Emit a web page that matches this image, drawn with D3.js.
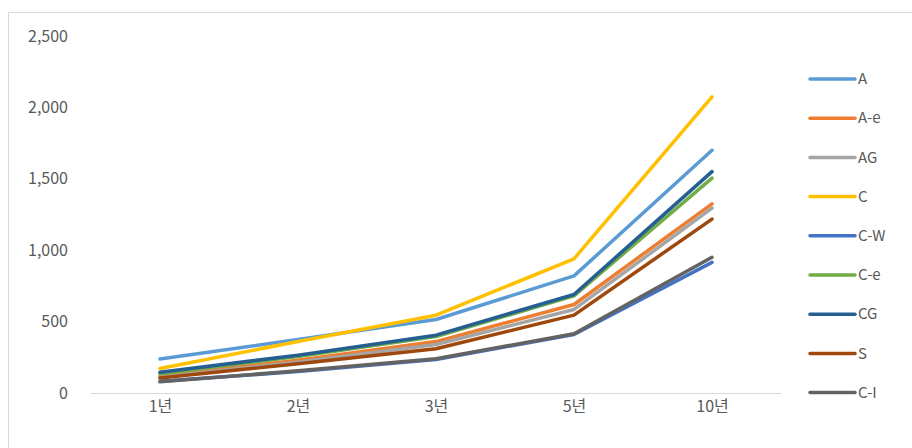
<!DOCTYPE html>
<html>
<head>
<meta charset="utf-8">
<script src="https://cdn.jsdelivr.net/npm/d3@7"></script>
<style>
  body { margin: 0; background: #fff; }
  text { font-family: "Noto Sans CJK KR", "Noto Sans", sans-serif; fill: #595959; }
</style>
</head>
<body>
<script>
"use strict";

// categories (years) and series
const categories = ["1년", "2년", "3년", "5년", "10년"];
const seriesNames = ["A", "A-e", "AG", "C", "C-W", "C-e", "CG", "S", "C-I"];
const valuesA   = [238, 375, 515, 820, 1700];
const valuesAe  = [120, 230, 360, 620, 1325];
const valuesAG  = [110, 215, 340, 585, 1295];
const valuesC   = [172, 360, 545, 940, 2073];
const valuesCW  = [82, 150, 235, 410, 915];
const valuesCe  = [135, 255, 395, 680, 1505];
const valuesCG  = [145, 265, 405, 690, 1550];
const valuesS   = [105, 205, 310, 545, 1218];
const valuesCI  = [78, 155, 240, 415, 950];
const yTicks = [0, 500, 1000, 1500, 2000, 2500];

const colors = ["#5B9BD5", "#ED7D31", "#A5A5A5", "#FFC000", "#4472C4", "#70AD47", "#255E91", "#9E480E", "#636363"];
const allValues = [valuesA, valuesAe, valuesAG, valuesC, valuesCW, valuesCe, valuesCG, valuesS, valuesCI];

const W = 912, H = 448;
const plot = {left: 91, right: 781, top: 36, bottom: 393};

const svg = d3.select("body").append("svg")
  .attr("width", W).attr("height", H);

// chart frame
svg.append("rect")
  .attr("x", 8.5).attr("y", 12.5)
  .attr("width", W - 8).attr("height", H - 12)
  .attr("fill", "none").attr("stroke", "#d9d9d9");

const x = d3.scalePoint().domain(categories).range([plot.left, plot.right]).padding(0.5);
const y = d3.scaleLinear().domain([0, 2500]).range([plot.bottom, plot.top]);

// y axis labels
const yAxis = svg.append("g")
  .attr("transform", `translate(${plot.left - 4},0)`)
  .call(d3.axisLeft(y).tickValues(yTicks).tickFormat(d3.format(",")).tickSize(0).tickPadding(19));
yAxis.select(".domain").remove();
yAxis.selectAll("text").style("font-size", "16px").attr("fill", "#595959");

// x axis
const xAxis = svg.append("g")
  .attr("transform", `translate(0,${plot.bottom})`)
  .call(d3.axisBottom(x).tickSize(0).tickPadding(8));
xAxis.select(".domain")
  .attr("d", `M${plot.left},0.5H${plot.right}`)
  .attr("stroke", "#d9d9d9");
xAxis.selectAll("text").style("font-size", "16px").attr("fill", "#595959");

const line = d3.line()
  .x((d, i) => x(categories[i]))
  .y(d => y(d));

// later series on top, as in the reference
svg.append("g").selectAll("path")
  .data(allValues)
  .join("path")
  .attr("d", d => line(d))
  .attr("fill", "none")
  .attr("stroke", (d, i) => colors[i])
  .attr("stroke-width", 3.5)
  .attr("stroke-linecap", "round")
  .attr("stroke-linejoin", "round");

// legend
const legend = svg.append("g").attr("transform", "translate(808,79)");
const item = legend.selectAll("g")
  .data(seriesNames)
  .join("g")
  .attr("transform", (d, i) => `translate(0,${i * 39.2})`);
item.append("line")
  .attr("x1", 2).attr("x2", 47)
  .attr("stroke", (d, i) => colors[i])
  .attr("stroke-width", 3.5)
  .attr("stroke-linecap", "round");
item.append("text")
  .attr("x", 50).attr("dy", "0.35em")
  .style("font-size", "15px")
  .text(d => d);
</script>
</body>
</html>
